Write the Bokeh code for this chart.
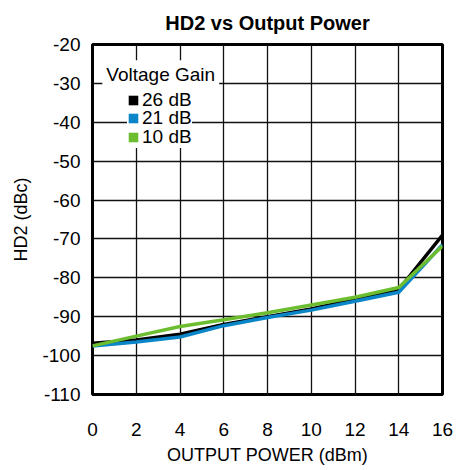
from bokeh.plotting import figure
from bokeh.models import ColumnDataSource, Legend, LegendItem, Range1d, FixedTicker, Label
from bokeh.embed import file_html
from bokeh.resources import INLINE

x_power = [0, 2, 4, 6, 8, 10, 12, 14, 16]
hd2_26db = [-96.8, -96.0, -94.5, -92.0, -90.0, -88.0, -85.5, -83.0, -69.0]
hd2_21db = [-97.5, -96.5, -95.2, -92.3, -90.2, -88.3, -86.0, -83.7, -71.5]
hd2_10db = [-97.5, -95.0, -92.5, -90.8, -89.0, -87.0, -85.0, -82.5, -71.8]
series_names = ["26 dB", "21 dB", "10 dB"]
legend_title = "Voltage Gain"
chart_title = "HD2 vs Output Power"
colors = ["#000000", "#0a86c8", "#6cbd2f"]
x_ticks = [0, 2, 4, 6, 8, 10, 12, 14, 16]
y_ticks = [-110, -100, -90, -80, -70, -60, -50, -40, -30, -20]

FONT = "Liberation Sans"

p = figure(frame_width=350, frame_height=350, output_backend="svg", toolbar_location=None,
           x_range=Range1d(0, 16), y_range=Range1d(-110, -20),
           min_border_left=92, min_border_right=15, min_border_top=44, min_border_bottom=0)

p.title.text = chart_title
p.title.align = "center"
p.title.vertical_align = "top"
p.title.offset = -7
p.title.text_font = FONT
p.title.text_font_size = "20px"
p.title.text_font_style = "bold"
p.title.text_color = "black"
p.title.standoff = 18

p.xaxis.axis_label = "OUTPUT POWER (dBm)"
p.yaxis.axis_label = "HD2 (dBc)"
for ax in (p.xaxis, p.yaxis):
    ax.axis_label_text_font = FONT
    ax.axis_label_text_font_size = "18px"
    ax.axis_label_text_font_style = "normal"
    ax.axis_label_text_color = "black"
    ax.major_label_text_font = FONT
    ax.major_label_text_font_size = "19px"
    ax.major_label_text_color = "black"
    ax.axis_line_color = None
    ax.major_tick_line_color = None
    ax.minor_tick_line_color = None
    ax.major_tick_out = 0
    ax.major_tick_in = 0
p.xaxis.major_label_standoff = 28
p.yaxis.major_label_standoff = 12
p.xaxis.axis_label_standoff = 6
p.yaxis.axis_label_standoff = 8
p.xaxis.ticker = FixedTicker(ticks=x_ticks)
p.yaxis.ticker = FixedTicker(ticks=y_ticks)
p.xaxis.major_label_overrides = {t: str(t) for t in x_ticks}
p.yaxis.major_label_overrides = {t: str(t) for t in y_ticks}

p.xgrid.ticker = FixedTicker(ticks=x_ticks)
p.ygrid.ticker = FixedTicker(ticks=y_ticks)
for g in (p.xgrid, p.ygrid):
    g.grid_line_color = "#111111"
    g.grid_line_width = 1.3
    g.grid_line_alpha = 1.0

p.outline_line_color = "black"
p.outline_line_width = 3
p.outline_line_alpha = 1.0

src = ColumnDataSource(dict(x=x_power, a=hd2_26db, b=hd2_21db, c=hd2_10db))
for col, color in zip(["a", "b", "c"], colors):
    p.line("x", col, source=src, line_color=color, line_width=3.5)

title_lbl = Label(x=0.45, y=-27.8, text=legend_title, text_font=FONT, text_font_size="19px",
                  text_color="black", text_baseline="middle", text_align="left",
                  background_fill_color="white", background_fill_alpha=1.0,
                  padding=4)
p.add_layout(title_lbl)

# legend swatches: square glyphs with no position (NaN), used only by the legends
swatch = ColumnDataSource(dict(x=[float("nan")], y=[float("nan")]))
legend_y = [283, 265, 246]
for name, color, ly in zip(series_names, colors, legend_y):
    r = p.rect("x", "y", width=0.1, height=0.1, source=swatch,
               fill_color=color, line_color=None)
    lg = Legend(items=[LegendItem(label=name, renderers=[r])], location=(35, ly),
                label_text_font=FONT, label_text_font_size="19px", label_text_color="black",
                glyph_width=12, glyph_height=12, label_height=18, label_standoff=3,
                spacing=0, padding=0, margin=0,
                background_fill_color="white", background_fill_alpha=1.0,
                border_line_color=None)
    p.add_layout(lg)

open("out.html", "w").write(file_html(p, INLINE))
